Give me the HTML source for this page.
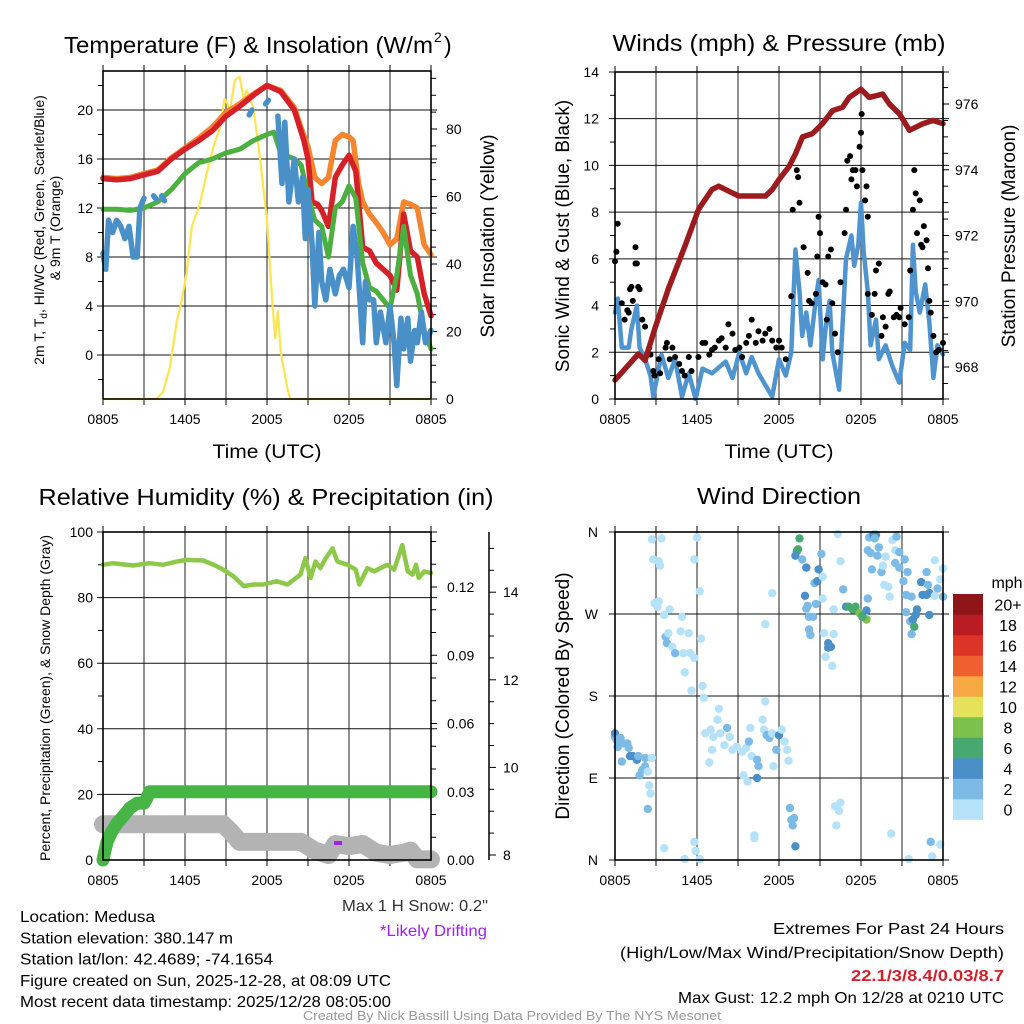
<!DOCTYPE html>
<html><head><meta charset="utf-8"><style>
html,body{margin:0;padding:0;background:#fff;}
svg{display:block;font-family:"Liberation Sans",sans-serif;}
</style></head><body>
<svg id="fig" width="1024" height="1024" viewBox="0 0 1024 1024" xmlns="http://www.w3.org/2000/svg"></svg>
<script>
// ===== DATA =====
const timeTickLabels = ["0805","1405","2005","0205","0805"];
const timeTickHours = [0,6,12,18,24];
// Panel 1: temperatures (F) vs hour
const tRedT = [0,1,2,3,4,5,6,7,8,9,10,11,12,13,14,14.7,15,15.3,15.7,16,16.5,17,17.5,18,18.5,19,19.5,20,20.5,21,21.5,22,22.5,23,23.5,24];
const tRedV = [14.4,14.3,14.4,14.7,15.0,16.0,16.8,17.5,18.3,19.5,20.3,21.2,22.0,21.5,20.0,17.5,16.0,12.5,12.3,11.8,10.5,14.5,15.5,16.3,15.0,8.8,8.5,7.5,7.0,6.5,5.3,11.5,8.5,8.0,5.0,3.2];
const tOrT = [0,1,2,3,4,5,6,7,8,9,10,11,12,13,14,14.5,15,15.5,16,16.5,17,17.5,18,18.3,18.7,19,19.5,20,20.5,21,21.5,22,22.5,23,23.5,24];
const tOrV = [14.5,14.4,14.5,14.8,15.1,16.1,16.9,17.7,18.6,19.8,20.5,21.3,22.0,21.6,20.2,18.5,17.0,14.5,14.0,14.5,17.5,18.0,17.8,17.5,14.0,12.5,11.5,10.8,10.0,9.0,9.5,12.5,12.3,12.0,9.0,8.2];
const tGrT = [0,1,2,3,4,5,6,7,8,9,10,11,12,12.5,13,14,14.5,15,15.5,16,16.5,17,17.5,18,18.5,19,19.5,20,20.5,21,21.5,22,22.5,23,23.5,24];
const tGrV = [11.9,11.9,11.8,12.0,12.5,13.5,14.8,15.7,16.0,16.5,16.8,17.5,18.0,18.2,16.5,16.0,15.5,13.0,11.0,10.5,8.0,12.0,12.5,13.8,12.8,7.5,5.5,5.2,4.5,3.8,6.5,10.5,6.5,5.0,2.0,0.5];
const blueSegT = [[0,0.2,0.4,0.7,1.0,1.3,1.6,1.9,2.2,2.5,2.7,3.0],[3.7,3.9],[4.3,4.5],[10.7,10.9],[11.9,12.1],
  [12.8,13.1,13.3,13.6,14,14.3,14.6,14.8,15,15.3,15.5,15.8,16,16.3,16.6,17,17.3,17.6,18,18.3,18.6,19,19.2,19.5,19.8,20,20.3,20.7,21,21.3,21.5,21.8,22,22.3,22.5,22.8,23,23.3,23.6,24]];
const blueSegV = [[8.3,7.0,11.0,10.0,11.0,10.5,9.5,10.5,8.0,8.0,12.0,12.8],[13.0,12.7],[13.0,12.6],[19.6,20.0],[20.5,20.8],
  [19.5,14,19,12.5,16,12.5,14.5,9.5,13.5,9,4,10,6,4.5,7.0,5.0,6.5,7.0,5.5,10.5,8.0,1.0,6.0,4.5,4.5,1.0,3.5,1.0,4.0,1.0,-2.5,3.0,0.5,3.0,-0.5,2.0,1.0,3.5,1.0,2.0]];
const solT = [0,3.9,4.4,4.9,5.4,5.75,6.1,6.5,7.1,7.6,8.1,8.6,8.9,9.3,9.65,10.0,10.3,10.5,11.0,11.5,12.0,12.4,12.6,12.8,13.0,13.5,13.7,24];
const solV = [0,0,2,9.5,23,29,37,51,58,67,75,81,89,86,94.5,95.5,88.6,91.5,86.5,71,53,28,18,26,14,3,0,0];
// Panel 2: wind (mph), gust (mph), pressure (mb)
const presT = [0,1.71,2.2,2.94,3.92,5.14,6.12,7.1,7.59,8.57,9.06,10.04,11.02,11.51,12,12.74,13.22,13.72,14.45,15.18,15.92,16.65,17.14,18,18.61,19.59,20.08,20.82,21.55,22.53,23.27,24];
const presV = [967.6,968.4,968.2,969.2,970.4,971.7,972.8,973.4,973.5,973.3,973.2,973.2,973.2,973.4,973.7,974.1,974.5,975.0,975.1,975.4,975.8,975.9,976.2,976.45,976.2,976.3,976.0,975.7,975.2,975.4,975.5,975.4];
const windT = [0,0.2,0.5,1.0,1.2,1.6,1.8,2.2,2.6,2.8,3.1,3.4,3.9,4.4,4.9,5.4,5.9,6.4,7.1,8.1,8.6,9.1,9.6,10.0,10.5,11.0,11.5,12.0,12.5,12.9,13.2,13.5,13.7,14.0,14.3,14.7,14.9,15.2,15.4,15.7,15.9,16.4,16.7,16.9,17.3,17.5,17.8,18.0,18.2,18.5,18.7,19.1,19.3,19.8,20.3,20.8,21.2,21.6,21.8,22.0,22.3,22.7,23.0,23.3,23.6,24];
const windV = [3.7,4.3,2.2,2.2,3,4,2.2,1.7,1.0,0.1,1.0,1.9,0.9,1.7,0.1,1.1,0,1.3,1.1,1.6,0.9,2,1.1,1.8,1.1,0.6,0.1,1.7,1.0,2.0,6.4,4.6,2.7,3.7,2.3,4.3,5.1,1.7,3,4.2,2,0.4,3.7,6,7,5.7,6.6,8.4,6.3,4.6,2.3,3.4,1.7,2.3,1.4,0.7,2.4,2.1,6.6,4.6,3.7,4.9,3.3,0.9,2.3,1.9];
const gustT = [0,0.1,0.2,0.5,0.7,0.9,1.0,1.1,1.2,1.3,1.5,1.5,1.6,1.7,1.8,2.0,2.2,2.5,2.6,2.8,2.9,3.2,3.3,3.7,3.8,4.0,4.2,4.4,4.7,4.9,5.1,5.4,5.6,6.1,6.4,6.6,6.9,7.1,7.3,7.6,7.8,8.1,8.3,8.6,8.8,9.1,9.3,9.6,9.8,10.0,10.3,10.5,10.8,11.0,11.3,11.5,11.8,12.0,12.2,12.5,12.9,13.0,13.3,13.4,13.5,13.8,14.1,14.2,14.4,14.7,14.8,14.9,15.0,15.2,15.4,15.5,15.6,15.8,15.9,16.1,16.3,16.5,16.8,16.9,17.0,17.2,17.3,17.4,17.6,17.7,17.9,18.0,18.05,18.1,18.3,18.4,18.5,18.5,18.8,19.0,19.1,19.3,19.5,19.6,19.8,20.0,20.1,20.4,20.6,20.8,20.9,21.2,21.5,21.6,21.8,21.9,22.0,22.1,22.3,22.4,22.5,22.6,22.8,22.9,23.0,23.1,23.3,23.5,23.7,24.0];
const gustV = [5.9,6.3,7.5,4.1,3.4,3.8,3.7,4.7,4.8,4.2,5.8,6.5,5.8,4.8,4.7,3.4,3.1,2.2,1.9,1.2,1.0,1.7,1.1,2.2,2.4,1.7,2.2,1.8,1.5,1.2,1.0,1.8,1.2,1.8,2.4,2.4,1.9,2.1,2.2,2.5,2.6,2.2,3.2,2.8,2.1,2.2,1.8,2.4,2.7,3.4,2.4,2.9,2.5,2.8,3.0,2.5,2.2,2.5,2.2,1.7,4.4,8.1,9.8,9.5,8.4,6.5,5.4,4.2,4.1,4.5,6.1,7.8,7.1,5.0,4.9,3.4,6.1,6.4,4.1,2.8,2.0,5.0,7.1,8.1,10.2,10.4,9.4,9.8,9.8,9.1,10.8,11.4,12.2,9.8,8.5,9.1,7.8,4.5,3.6,4.5,5.5,5.8,2.7,3.5,3.1,4.5,4.6,3.5,3.6,3.5,3.9,3.2,3.5,5.5,8.1,9.8,8.8,7.1,8.5,6.6,6.5,7.4,6.8,5.6,4.2,3.7,2.7,2.0,2.1,2.4];
// Panel 3: RH (%), precip (in), snow depth (in)
const rhT = [0,0.7,2.2,3.4,4.4,5.4,6.1,7.35,8.1,8.8,9.55,10.3,11.0,11.75,12.7,13.5,14.45,14.8,15.2,15.55,15.9,16.3,16.8,17.15,17.9,18.5,18.75,19.35,19.85,20.3,20.8,21.3,21.9,22.3,22.65,22.9,23.1,23.5,24];
const rhV = [90,90.5,89.8,90.5,90,91,91.5,91.3,90,88.5,86.5,83.5,84,84,85,84,87,92,86,91,89,92,95,91,90,88.5,84,89,88,89,90,88.5,96,88,87,90,86,88,87.5];
const prT = [0,0.1,0.3,0.6,1.0,1.3,2.0,2.5,3.0,3.2,3.4,24];
const prV = [0,0.003,0.008,0.012,0.016,0.018,0.023,0.025,0.025,0.027,0.030,0.030];
const snT = [0,8.8,9.3,10,12,14.5,15.5,16.5,17,18,19,20,21,22,22.5,23,24];
const snV = [8.7,8.7,8.55,8.3,8.3,8.3,8.1,8.0,8.25,8.2,8.25,8.05,8.0,8.05,8.1,7.9,7.9];
// Panel 4: wind direction (deg) & speed (mph)
const dirT = [0,0,0.1,0.2,0.4,0.6,0.9,1.0,0.5,1.1,1.3,1.6,1.7,1.8,2.0,2.2,2.2,2.4,2.7,2.5,2.6,2.4,
2.7,3.4,2.8,3.2,3.3,2.9,3.2,3.1,3.6,4.0,4.9,3.7,3.8,3.9,4.2,4.4,4.8,5.0,5.4,5.5,5.8,5.1,5.6,6.4,6.5,6.0,5.8,6.2,6.3,3.6,5.1,5.8,5.9,6.2,
6.6,7.0,7.2,7.5,7.6,7.7,8.0,8.2,8.4,8.6,8.9,9.3,9.6,9.8,9.9,10.0,10.4,10.5,10.8,10.9,11.0,11.1,11.3,11.5,11.6,11.8,12.0,12.2,12.4,12.6,12.7,6.9,7.1,9.4,9.7,10.4,11.0,11.5,10.2,10.2,
12.8,12.9,13.1,13.0,13.2,13.5,13.3,13.4,13.2,13.7,14.0,13.9,14.1,14.0,14.2,14.5,14.2,14.3,14.7,14.6,14.8,14.9,15.1,15.2,15.2,15.3,15.4,15.6,15.6,15.8,15.9,16.0,16.0,16.3,16.5,16.7,16.1,16.5,16.4,16.2,16.9,17.1,17.4,17.6,17.9,18.1,18.4,18.1,18.4,18.5,18.6,18.9,19.1,19.0,18.5,18.7,19.2,19.3,18.8,19.5,19.6,19.8,19.7,20.0,20.1,20.2,20.3,20.6,20.5,20.8,21.2,20.5,20.8,21.1,21.4,21.3,21.7,21.3,21.6,21.8,22.0,22.1,21.9,21.7,22.4,22.5,22.8,23.0,22.9,22.8,23.0,23.4,23.8,23.6,24,24,23.4,23.1,23.8,23.2,21.5];
const dirV = [135,139,132,124,134,128,128,123,108,114,114,110,114,93,99,103,112,97,112,82,73,56,
352,353,330,328,323,282,284,278,269,275,267,245,238,249,234,227,251,227,249,227,222,206,186,191,178,354,330,295,243,13,1,20,10,1,
139,143,135,154,166,139,126,145,135,121,124,119,123,130,145,114,110,103,154,143,174,137,134,139,103,121,137,143,130,121,109,107,121,93,86,90,259,293,27,24,
57,44,46,38,15,353,339,341,334,330,321,290,279,276,267,267,253,247,281,304,306,319,336,311,287,249,223,238,233,234,213,248,275,358,328,297,59,63,54,38,278,278,275,278,271,268,264,267,274,287,354,357,357,353,340,337,334,343,319,316,323,333,302,300,289,29,351,355,340,338,330,326,321,306,316,291,289,272,262,264,269,275,256,248,305,291,291,293,302,316,269,329,308,298,289,320,290,20,17,4,1];
const dirS = [3,4,3,3,3,3,3,3,3,4,4,4,3,3,3,3,3,1,1,1,1,3,
1,1,1,1,1,1,1,1,1,1,1,3,3,1,1,3,1,1,1,1,1,1,1,1,1,1,1,1,1,1,1,1,1,1,
1,1,1,1,1,1,1,3,1,1,1,1,1,3,1,1,3,3,1,1,1,3,3,1,1,3,4,1,1,1,1,1,1,1,1,4,1,1,1,1,
3,3,3,3,4,6,6,6,4,3,4,4,3,3,3,3,3,3,3,3,4,4,3,1,1,1,1,4,4,4,1,1,1,1,1,3,1,1,1,1,4,6,6,6,8,7,8,7,4,3,3,4,4,3,3,3,3,3,3,3,1,1,1,1,1,1,1,3,1,3,3,3,3,3,3,3,3,3,3,4,4,4,7,3,4,4,4,4,3,3,4,1,1,3,3,1,1,3,1,1,1];
const cbLabels = ["0","2","4","6","8","10","12","14","16","18","20+"];
const cbColors = ["#b5e2f8","#7cbbe6","#4a8fc7","#48a872","#7cc14b","#e6e15a","#f6a843","#ee6030","#de3427","#bb1c24","#8e1618"];

// ===== HELPERS =====
const NS = "http://www.w3.org/2000/svg";
const svg = document.getElementById("fig");
function mk(tag, attrs, parent){ const e=document.createElementNS(NS,tag); for(const k in attrs) e.setAttribute(k,attrs[k]); (parent||svg).appendChild(e); return e; }
function txt(s, x, y, size, anchor, attrs, parent){ const e=mk("text",Object.assign({x:x,y:y,"font-size":size,"text-anchor":anchor||"start",fill:"#000"},attrs||{}),parent); e.textContent=s; return e; }
function poly(xs, ys, fx, fy){ return xs.map((t,i)=>fx(t).toFixed(1)+","+fy(ys[i]).toFixed(1)).join(" "); }

function panel(name, x0, x1, y0, y1){
  const g = mk("g",{});
  
  
  const xs = t => x0 + t*(x1-x0)/24;
  return {g, xs, x0, x1, y0, y1};
}
function frame(p){
  for(let h=3; h<24; h+=3){ const l=mk("line",{x1:p.xs(h),x2:p.xs(h),y1:p.y0,y2:p.y1,stroke:"#555","stroke-width":1.3},p.g);
      }
  for(let h=0; h<=24; h+=3){ mk("line",{x1:p.xs(h),x2:p.xs(h),y1:p.y0-6,y2:p.y0,stroke:"#000","stroke-width":1},p.g); mk("line",{x1:p.xs(h),x2:p.xs(h),y1:p.y1,y2:p.y1+6,stroke:"#000","stroke-width":1},p.g); }
  timeTickHours.forEach((h,i)=>{ const t=txt(timeTickLabels[i], p.xs(h), p.y1+25, 14, "middle",{},p.g);
      });
}
function hgrid(p, vals, fy, labels, lx, anchor){
  vals.forEach((v,i)=>{ const y=fy(v);
    mk("line",{x1:p.x0-6,x2:p.x1+6,y1:y,y2:y,stroke:"#111","stroke-width":1},p.g);
    const t=txt(labels[i], lx, y+5, 14, anchor, {}, p.g);
      });
}
function border(p){ const r=mk("rect",{x:p.x0,y:p.y0,width:p.x1-p.x0,height:p.y1-p.y0,fill:"none",stroke:"#000","stroke-width":1.6},p.g);
    }
function minor(p, x, vals, fy, dir){ vals.forEach(v=>{ const y=fy(v); mk("line",{x1:x,x2:x+dir*5,y1:y,y2:y,stroke:"#000","stroke-width":1},p.g); }); }
function line(p, T, V, fy, color, w, name){ const e=mk("polyline",{points:poly(T,V,p.xs,fy),fill:"none",stroke:color,"stroke-width":w,"stroke-linejoin":"round","stroke-linecap":"round"},p.g);
    return e; }

// ===== TITLES & FOOTER TEXT =====
let e;
e=txt("Temperature (F) & Insolation (W/m", 64, 53, 23, "start",{textLength:369,lengthAdjust:"spacingAndGlyphs"});
 
e=txt("2", 434, 42, 14);  
e=txt(")", 444, 53, 23);  
e=txt("Winds (mph) & Pressure (mb)", 779, 51, 23, "middle",{textLength:333,lengthAdjust:"spacingAndGlyphs"});
 
e=txt("Relative Humidity (%) & Precipitation (in)", 266, 505, 23, "middle",{textLength:455,lengthAdjust:"spacingAndGlyphs"});
 
e=txt("Wind Direction", 779, 504, 23, "middle",{textLength:164,lengthAdjust:"spacingAndGlyphs"});
 
e=txt("Time (UTC)", 267, 458, 19, "middle",{textLength:109,lengthAdjust:"spacingAndGlyphs"});
 
e=txt("Time (UTC)", 779, 458, 19, "middle",{textLength:109,lengthAdjust:"spacingAndGlyphs"});
 

e=mk("text",{x:0,y:0,"font-size":14,"text-anchor":"middle",transform:"translate(44,230) rotate(-90)"});
e.innerHTML='2m T, T<tspan font-size="10" dy="3">d</tspan><tspan dy="-3">, HI/WC (Red, Green, Scarlet/Blue)</tspan>';
 
e=txt("& 9m T (Orange)", 0, 0, 14, "middle",{transform:"translate(60,228) rotate(-90)"});
 
e=txt("Solar Insolation (Yellow)", 0, 0, 19, "middle",{transform:"translate(494,236) rotate(-90)"});
 
e=txt("Sonic Wind & Gust (Blue, Black)", 0, 0, 19, "middle",{transform:"translate(569,236) rotate(-90)"});
 
e=txt("Station Pressure (Maroon)", 0, 0, 19, "middle",{transform:"translate(1015,236) rotate(-90)"});
 
e=txt("Percent, Precipitation (Green), & Snow Depth (Gray)", 0, 0, 14, "middle",{transform:"translate(50,698) rotate(-90)"});
 
e=txt("Direction (Colored By Speed)", 0, 0, 19, "middle",{transform:"translate(569,696) rotate(-90)"});
 

const infoLines = ["Location: Medusa","Station elevation: 380.147 m","Station lat/lon: 42.4689; -74.1654","Figure created on Sun, 2025-12-28, at 08:09 UTC","Most recent data timestamp: 2025/12/28 08:05:00"];
const infoW = [135,213,253,371,371];
infoLines.forEach((s,i)=>{ const t=txt(s, 20, 922+i*21.3, 16, "start",{textLength:infoW[i],lengthAdjust:"spacingAndGlyphs"});
    });
e=txt('Max 1 H Snow: 0.2"', 488, 911, 16, "end",{fill:"#333",textLength:146,lengthAdjust:"spacingAndGlyphs"});
 
e=txt("*Likely Drifting", 487, 936, 16, "end",{fill:"#a020f0",textLength:107,lengthAdjust:"spacingAndGlyphs"});
 
e=txt("Extremes For Past 24 Hours", 1004, 934, 16, "end",{textLength:231,lengthAdjust:"spacingAndGlyphs"});
 
e=txt("(High/Low/Max Wind/Precipitation/Snow Depth)", 1004, 958, 16, "end",{textLength:384,lengthAdjust:"spacingAndGlyphs"});
 
e=txt("22.1/3/8.4/0.03/8.7", 1004, 981, 16, "end",{fill:"#d0202a","font-weight":"bold",textLength:153,lengthAdjust:"spacingAndGlyphs"});
 
e=txt("Max Gust: 12.2 mph On 12/28 at 0210 UTC", 1004, 1003, 16, "end",{textLength:326,lengthAdjust:"spacingAndGlyphs"});
 
e=txt("Created By Nick Bassill Using Data Provided By The NYS Mesonet", 512, 1020, 12.5, "middle",{fill:"#999",textLength:418,lengthAdjust:"spacingAndGlyphs"});
 

// ===== PANEL 1 =====
const p1 = panel("temperature-panel", 103, 431, 71, 399);
const yT = v => 355 - v*12.25;
const yI = v => 399 - v*3.375;
frame(p1);
hgrid(p1,[0,4,8,12,16,20],yT,["0","4","8","12","16","20"],93,"end");
minor(p1,103,[-2,2,6,10,14,18,22],yT,-1);
[0,20,40,60,80].forEach(v=>{ const y=yI(v); mk("line",{x1:431,x2:437,y1:y,y2:y,stroke:"#000"},p1.g); const t=txt(String(v),446,y+5,14,"start",{},p1.g);
    });
minor(p1,431,[5,10,15,25,30,35,45,50,55,65,70,75,85,90,95],yI,1);
line(p1,solT,solV,yI,"#fde450",2.2,"insolation-line");
line(p1,tOrT,tOrV,yT,"#f5852f",5.5,"temp-9m-line");
line(p1,tRedT,tRedV,yT,"#d62027",5.5,"temp-2m-line");
line(p1,tGrT,tGrV,yT,"#4bb03f",5,"dewpoint-line");
blueSegT.forEach((T,i)=>{ line(p1,T,blueSegV[i],yT,"#4a90c8",5.5,"windchill-line"); });
border(p1);

// ===== PANEL 2 =====
const p2 = panel("wind-panel", 615, 943, 72, 399);
const yW = v => 399 - v*23.36;
const yP = p => 367 - (p-968)*32.875;
frame(p2);
hgrid(p2,[0,2,4,6,8,10,12,14],yW,["0","2","4","6","8","10","12","14"],599,"end");
minor(p2,615,[1,3,5,7,9,11,13],yW,-1);
[968,970,972,974,976].forEach(v=>{ const y=yP(v); mk("line",{x1:943,x2:949,y1:y,y2:y,stroke:"#000"},p2.g); const t=txt(String(v),955,y+5,14,"start",{},p2.g);
    });
minor(p2,943,[967.5,968.5,969,969.5,970.5,971,971.5,972.5,973,973.5,974.5,975,975.5,976.5],yP,1);
line(p2,windT,windV,yW,"#4f94cf",4.5,"sonic-wind-line");
gustT.forEach((t,i)=>{ const c=mk("circle",{cx:p2.xs(t).toFixed(1),cy:yW(gustV[i]).toFixed(1),r:3,fill:"#000"},p2.g);
    });
line(p2,presT,presV,yP,"#9b1b1e",5.5,"pressure-line");
border(p2);

// ===== PANEL 3 =====
const p3 = panel("humidity-panel", 103, 431, 532, 860);
const yRH = v => 860 - v*3.28;
const yPr = v => 860 - v*2275;
const ySn = v => 855 - (v-8)*43.8;
frame(p3);
hgrid(p3,[0,20,40,60,80,100],yRH,["0","20","40","60","80","100"],93,"end");
minor(p3,103,[10,30,50,70,90],yRH,-1);
[0,0.03,0.06,0.09,0.12].forEach(v=>{ const y=yPr(v); mk("line",{x1:431,x2:437,y1:y,y2:y,stroke:"#000"},p3.g); const t=txt(v.toFixed(2),447,y+5,14,"start",{},p3.g);
    });
minor(p3,431,[0.01,0.02,0.04,0.05,0.07,0.08,0.1,0.11,0.13,0.14],yPr,1);
e=mk("line",{x1:489,x2:489,y1:532,y2:860,stroke:"#000","stroke-width":1.5},p3.g);
 
[8,10,12,14].forEach(v=>{ const y=ySn(v); mk("line",{x1:489,x2:496,y1:y,y2:y,stroke:"#000"},p3.g); const t=txt(String(v),503,y+5,14,"start",{},p3.g);
    });
minor(p3,489,[8.5,9,9.5,10.5,11,11.5,12.5,13,13.5,14.5,15],ySn,1);
line(p3,snT,snV,ySn,"#b3b3b3",18,"snow-depth-line");
line(p3,prT,prV,yPr,"#47b446",13,"precipitation-line");
line(p3,rhT,rhV,yRH,"#8dc84b",4.5,"humidity-line");
e=mk("rect",{x:p3.xs(17.2)-4,y:841,width:8,height:4,fill:"#a020f0"},p3.g);
 
border(p3);

// ===== PANEL 4 =====
const p4 = panel("direction-panel", 615, 943, 532, 860);
const yD = d => 860 - d*0.911;
frame(p4);
hgrid(p4,[0,90,180,270,360],yD,["N","E","S","W","N"],598,"end");
function speedColor(s){ const i=Math.min(10,Math.floor(s/2)); return cbColors[i]; }
dirT.forEach((t,i)=>{ const c=mk("circle",{cx:p4.xs(t).toFixed(1),cy:yD(dirV[i]).toFixed(1),r:4.2,fill:speedColor(dirS[i])},p4.g);
    });
border(p4);
const cb = mk("g",{});


const cbTop=594, cbH=20.5;
cbColors.forEach((c,i)=>{ const y=cbTop+(10-i)*cbH; const r=mk("rect",{x:953,y:y,width:30,height:cbH+0.3,fill:c},cb);
   
  const t=txt(cbLabels[i],1008,y+cbH/2+6,16,"middle",{},cb);
    });
e=txt("mph",1007,588,16,"middle",{},cb);
 
</script>
</body></html>
